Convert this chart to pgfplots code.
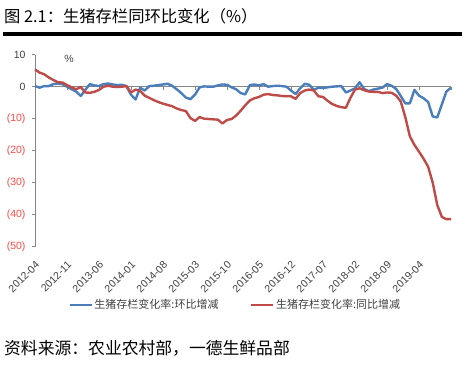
\documentclass[border=0pt]{standalone}
\usepackage{pgfplots}
\pgfplotsset{compat=1.18}
\usepackage{pgfplotstable}
\usepackage{fontspec}
\setmainfont{Liberation Sans}
\newfontfamily\cjk{Noto Sans CJK SC}
\definecolor{bl}{RGB}{74,126,187}
\definecolor{rd}{RGB}{190,75,72}
\definecolor{negred}{RGB}{255,70,70}
\definecolor{axgray}{RGB}{134,134,134}
\definecolor{txt}{RGB}{64,64,64}

\pgfplotstableread{
i blue red
0 0.2 5.4
1 -0.3 4.4
2 0.2 3.9
3 0.2 2.9
4 0.8 2.1
5 1.0 1.4
6 0.8 1.3
7 0.0 0.5
8 -0.8 -0.2
9 -1.5 -0.8
10 -2.9 -0.1
11 -1.0 -1.8
12 0.8 -1.9
13 0.4 -1.6
14 0.2 -1.0
15 0.8 0.0
16 1.0 0.3
17 0.7 0.0
18 0.5 -0.1
19 0.6 0.0
20 0.2 0.2
21 -2.5 -1.8
22 -4.0 -0.9
23 -0.3 -1.3
24 -1.2 -2.8
25 0.2 -3.5
26 0.3 -4.2
27 0.5 -4.8
28 0.7 -5.3
29 0.9 -5.7
30 0.3 -6.1
31 -0.8 -6.8
32 -2.0 -7.3
33 -3.4 -7.6
34 -3.9 -9.8
35 -2.5 -10.7
36 -0.2 -9.5
37 0.1 -10.0
38 0.0 -10.1
39 0.0 -10.2
40 0.4 -10.3
41 0.7 -11.5
42 0.6 -10.4
43 -0.2 -10.1
44 -0.8 -9.0
45 -2.0 -7.5
46 -2.4 -5.8
47 0.5 -4.3
48 0.7 -3.6
49 0.4 -3.2
50 0.8 -2.5
51 0.0 -2.3
52 0.2 -2.6
53 0.3 -2.7
54 0.2 -2.9
55 0.0 -3.0
56 -1.2 -3.0
57 -2.3 -3.8
58 -0.5 -2.0
59 0.9 -1.2
60 0.6 -0.9
61 -1.0 -1.2
62 -0.3 -3.0
63 -0.4 -3.2
64 -0.2 -4.4
65 0.0 -5.4
66 0.1 -6.0
67 0.2 -6.4
68 -1.8 -6.6
69 -1.2 -3.5
70 -0.5 -0.9
71 1.4 -0.5
72 -0.7 -1.1
73 -1.4 -1.5
74 -0.9 -1.6
75 -0.6 -1.6
76 -0.3 -2.0
77 0.8 -1.8
78 0.3 -1.9
79 -0.7 -2.8
80 -2.9 -4.6
81 -5.2 -9.5
82 -5.2 -15.5
83 -1.0 -18.2
84 -2.8 -20.3
85 -3.6 -22.5
86 -4.8 -25.0
87 -9.3 -30.0
88 -9.6 -37.0
89 -5.5 -40.7
90 -1.5 -41.4
91 -0.3 -41.4
}\datatable

\begin{document}
\begin{tikzpicture}
\path[use as bounding box] (0pt,0pt) rectangle (465pt,366pt);
\node[anchor=base west, inner sep=0pt, font=\cjk\fontsize{16.3}{16.3}\selectfont] at (4pt,343pt) {图 2.1：生猪存栏同环比变化（\%）};
\fill (3pt,330pt) rectangle (462pt,334pt);
\node[anchor=base west, inner sep=0pt, font=\cjk\fontsize{16.8}{16.8}\selectfont] at (4pt,11pt) {资料来源：农业农村部，一德生鲜品部};
\node[font=\fontsize{10.5}{10.5}\selectfont, text=txt] at (69pt,307pt) {\%};
\begin{axis}[
  at={(35pt,119.3pt)}, anchor=south west,
  scale only axis, width=416pt, height=192pt,
  xmin=0, xmax=91, ymin=-50, ymax=10,
  axis x line=bottom, axis y line=left,
  x axis line style={draw=none},
  y axis line style={axgray, line width=0.8pt, -},
  xtick={0,7,...,84},
  xticklabels={2012-04,2012-11,2013-06,2014-01,2014-08,2015-03,2015-10,2016-05,2016-12,2017-07,2018-02,2018-09,2019-04},
  xtick style={draw=none},
  ytick={-50,-40,-30,-20,-10,0,10},
  yticklabels={\textcolor{negred}{(50)},\textcolor{negred}{(40)},\textcolor{negred}{(30)},\textcolor{negred}{(20)},\textcolor{negred}{(10)},0,10},
  ytick style={axgray, line width=0.8pt},
  tick align=outside, major tick length=3pt,
  yticklabel style={font=\fontsize{10.5}{10.5}\selectfont, text=txt, xshift=-3pt},
  xticklabel style={font=\fontsize{10.5}{10.5}\selectfont, text=txt, xshift=5pt, yshift=-11pt, rotate=45, anchor=east},
  legend style={at={(0.482,-0.304)}, anchor=center, draw=none, fill=none,
    legend columns=2, font=\cjk\fontsize{11}{11}\selectfont, text=txt,
    /tikz/every even column/.append style={column sep=30pt}},
  legend image code/.code={\draw[#1, line width=1.5pt] (0pt,0pt) -- (22pt,0pt);},
  clip=false,
]
\addplot[axgray, line width=0.8pt, forget plot] coordinates {(0,0) (91,0)};
\pgfplotsinvokeforeach{0,7,...,91}{\draw[axgray, line width=0.8pt] (axis cs:#1,0) -- ++(0pt,-3pt);}
\addplot[bl, line width=2.4pt, line join=round] table[x=i, y=blue] {\datatable};
\addlegendentry{生猪存栏变化率:环比增减}
\addplot[rd, line width=2.4pt, line join=round] table[x=i, y=red] {\datatable};
\addlegendentry{生猪存栏变化率:同比增减}
\end{axis}
\end{tikzpicture}
\end{document}
